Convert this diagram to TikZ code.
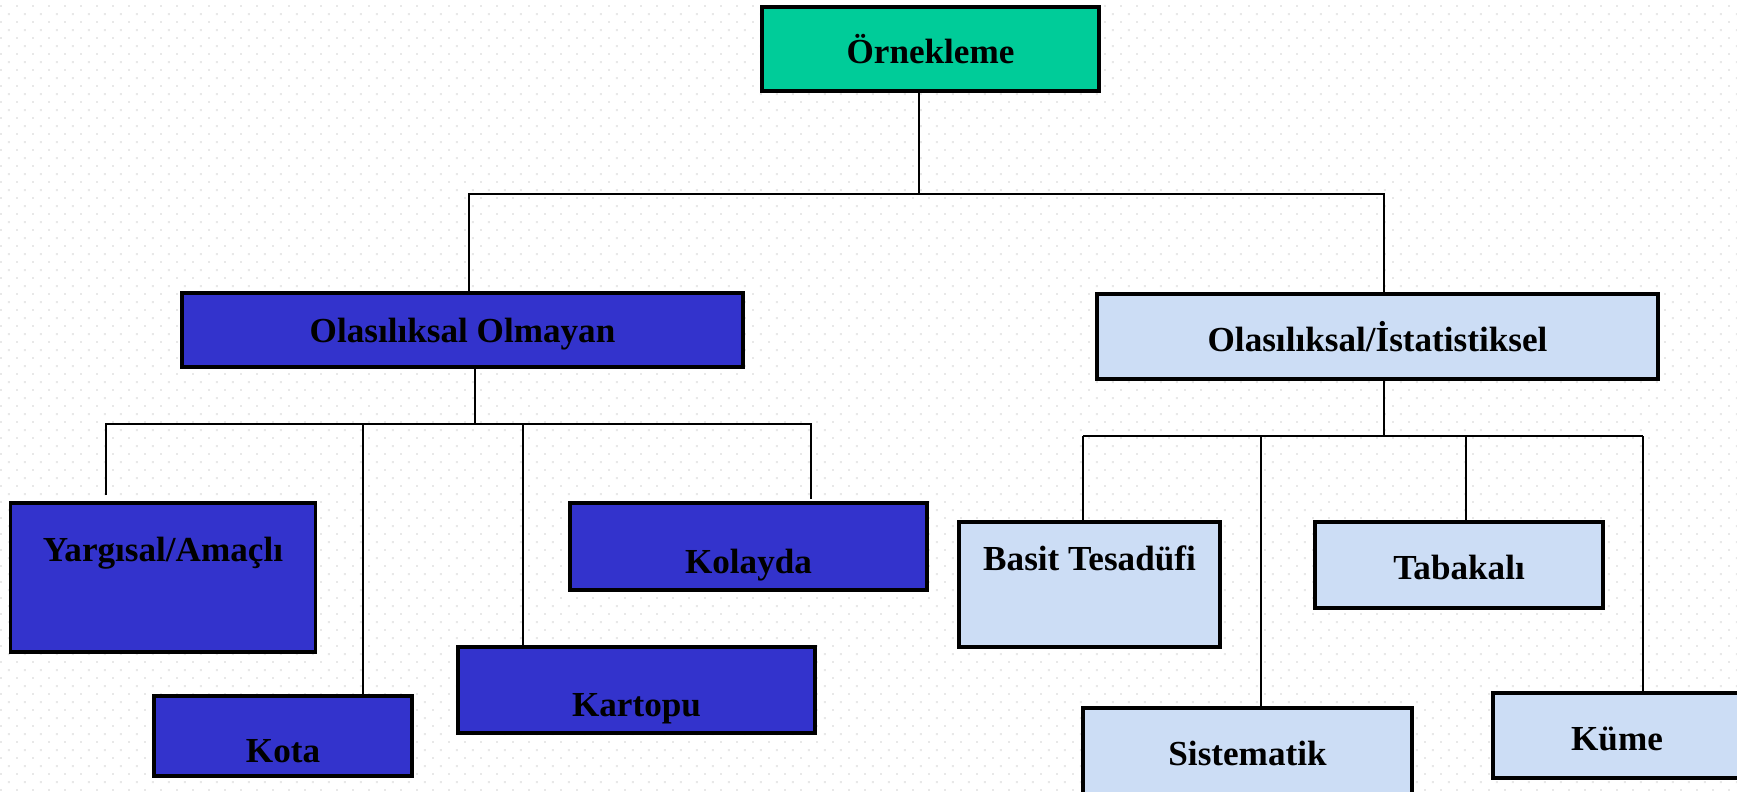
\documentclass[tikz,border=0pt]{standalone}
\usepackage{fontspec}
\setmainfont{Liberation Serif}
\usetikzlibrary{patterns}

\definecolor{yesil}{RGB}{0,204,153}
\definecolor{koyumavi}{RGB}{51,51,204}
\definecolor{acikmavi}{RGB}{204,221,245}

\pgfdeclarepatternformonly{noktalar}{\pgfpointorigin}{\pgfpoint{9.1pt}{9.1pt}}{\pgfpoint{9.1pt}{9.1pt}}{
    \pgfpathrectangle{\pgfpoint{0pt}{0pt}}{\pgfpoint{1.1pt}{1.1pt}}
    \pgfpathrectangle{\pgfpoint{4.55pt}{4.55pt}}{\pgfpoint{1.1pt}{1.1pt}}
    \pgfusepath{fill}
}

\tikzset{
    kutu/.style={draw=black, line width=1.8pt, inner sep=0pt, outer sep=0pt,
        font=\fontsize{20}{24}\selectfont\bfseries},
    baglanti/.style={line width=1.2pt}
}
\newcommand{\yazi}[2]{\raisebox{#1}[0pt][0pt]{#2}}

\begin{document}
\begin{tikzpicture}[x=0.02cm, y=-0.02cm]
            \useasboundingbox (0,0) rectangle (1737,791);
            \clip (0,0) rectangle (1737,791);
            \fill[white] (0,0) rectangle (1737,791);
            \fill[pattern=noktalar, pattern color=black!9] (0,0) rectangle (1737,791);

            \node[kutu, fill=yesil, minimum width=6.74cm, minimum height=1.68cm] (orn) at (930.5,49) {\yazi{-0.30cm}{Örnekleme}};

            \node[kutu, fill=koyumavi, minimum width=11.22cm, minimum height=1.48cm] (olmayan) at (462.5,330) {\yazi{-0.24cm}{Olasılıksal Olmayan}};
            \node[kutu, fill=acikmavi, minimum width=11.22cm, minimum height=1.70cm] (olasi) at (1377.5,336.5) {\yazi{-0.29cm}{Olasılıksal/İstatistiksel}};

            \node[kutu, fill=koyumavi, minimum width=6.10cm, minimum height=2.98cm] (yargi) at (163,577.5) {\yazi{0.33cm}{Yargısal/Amaçlı}};
            \node[kutu, fill=koyumavi, minimum width=5.16cm, minimum height=1.60cm] (kota) at (283,736) {\yazi{-0.52cm}{Kota}};
            \node[kutu, fill=koyumavi, minimum width=7.14cm, minimum height=1.72cm] (kartopu) at (636.5,690) {\yazi{-0.52cm}{Kartopu}};
            \node[kutu, fill=koyumavi, minimum width=7.14cm, minimum height=1.74cm] (kolay) at (748.5,546.5) {\yazi{-0.53cm}{Kolayda}};

            \node[kutu, fill=acikmavi, minimum width=5.22cm, minimum height=2.50cm] (basit) at (1089.5,584.5) {\yazi{0.29cm}{Basit Tesadüfi}};
            \node[kutu, fill=acikmavi, minimum width=5.76cm, minimum height=1.72cm] (tabaka) at (1459,565) {\yazi{-0.28cm}{Tabakalı}};
            \node[kutu, fill=acikmavi, minimum width=6.58cm, minimum height=2.00cm] (sistem) at (1247.5,758) {\yazi{-0.14cm}{Sistematik}};
            \node[kutu, fill=acikmavi, minimum width=4.96cm, minimum height=1.70cm] (kume) at (1617,735.5) {\yazi{-0.29cm}{Küme}};

            \coordinate (ust) at (919,194);
            \coordinate (ustsol) at (469,194);
            \coordinate (ustsag) at (1384,194);
            \draw[baglanti] (orn.south -| ust) -- (ust);
            \draw[baglanti] (olmayan.north -| ustsol) -- (ustsol) -- (ustsag) -- (olasi.north -| ustsag);

            \coordinate (sol) at (475,424);
            \coordinate (sol1) at (106,424);
            \coordinate (sol4) at (811,424);
            \coordinate (ucyargi) at (106,495);
            \coordinate (uckolay) at (811,499);
            \draw[baglanti] (olmayan.south -| sol) -- (sol);
            \draw[baglanti] (ucyargi) -- (sol1) -- (sol4) -- (uckolay);
            \foreach \n/\x in {kota/363, kartopu/523}
            {
                \draw[baglanti] (\x,424) -- (\n.north -| \x,0);
            }

            \coordinate (sag) at (1384,436);
            \coordinate (sag1) at (1083,436);
            \coordinate (sag4) at (1643,436);
            \draw[baglanti] (olasi.south -| sag) -- (sag);
            \draw[baglanti] (sag1) -- (sag4);
            \foreach \n/\x in {basit/1083, sistem/1261, tabaka/1466, kume/1643}
            {
                \draw[baglanti] (\x,436) -- (\n.north -| \x,0);
            }
        \end{tikzpicture}
\end{document}
